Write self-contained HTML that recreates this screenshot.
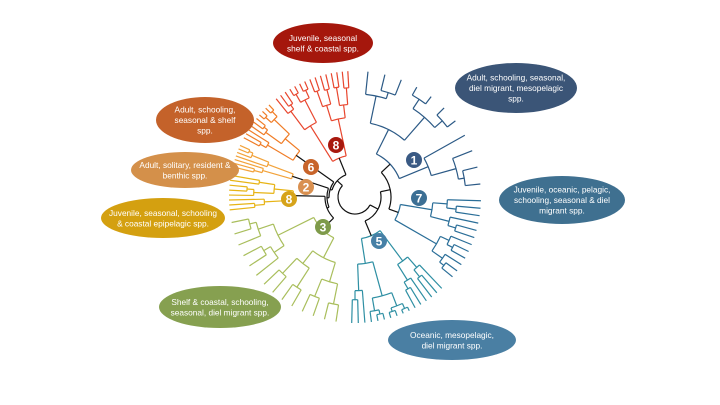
<!DOCTYPE html>
<html><head><meta charset="utf-8"><style>
html,body{margin:0;padding:0;background:#fff;width:720px;height:405px;overflow:hidden}
svg text{font-family:"Liberation Sans",sans-serif}
</style></head><body>
<svg id="chart" width="720" height="405" viewBox="0 0 720 405" xmlns="http://www.w3.org/2000/svg">
<g id="tree"></g>
<g id="badges"></g>
<g id="labels"></g>
</svg>
<script>
// Cluster data
const clusterIds = ['1','7','5','3','8y','2','6','8r'];
const clusterStart = [2, 90, 135, 186, 263, 283, 297, 320];
const clusterEnd = [88, 131, 183, 261, 281, 295, 318, 358];
const clusterLeaves = [11, 12, 16, 14, 8, 7, 10, 15];
const clusterRootR = [48, 46, 42, 46, 62, 66, 72, 42];
const clusterColors = ['#2C5A86','#2A6E98','#2E8FA3','#A9BE5C','#E7B416','#F2A23A','#F07C26','#E8462E'];
const badgeText = ['1','7','5','3','8','2','6','8'];
const badgeColors = ['#3A5A84','#3C6F94','#4680A6','#7E9A4A','#D6A31A','#D99050','#C8642A','#A8190E'];

const CX=355, CY=197, R_OUT=126, R_ROOT=17;
const NS='http://www.w3.org/2000/svg';
const tree=document.getElementById('tree');
function pt(a,r){const t=a*Math.PI/180;return [CX+r*Math.sin(t), CY-r*Math.cos(t)];}
function line(a,r1,r2,col){const p=pt(a,r1),q=pt(a,r2);const e=document.createElementNS(NS,'line');
e.setAttribute('x1',p[0]);e.setAttribute('y1',p[1]);e.setAttribute('x2',q[0]);e.setAttribute('y2',q[1]);
e.setAttribute('stroke',col);e.setAttribute('stroke-width','1.2');


tree.appendChild(e);}
function arc(a1,a2,r,col){if(Math.abs(a2-a1)<0.01)return;const p=pt(a1,r),q=pt(a2,r);const large=Math.abs(a2-a1)>180?1:0;const sw=a2>a1?1:0;
const e=document.createElementNS(NS,'path');e.setAttribute('d',`M${p[0]},${p[1]}A${r},${r} 0 ${large} ${sw} ${q[0]},${q[1]}`);
e.setAttribute('fill','none');e.setAttribute('stroke',col);e.setAttribute('stroke-width','1.2');


tree.appendChild(e);}
const fracs=[0.4,0.55,0.3,0.65,0.5,0.35,0.6,0.45];
const steps=[0.45,0.3,0.55,0.35,0.4,0.6,0.28,0.5];
function build(a0,a1,n,r,depth,col){
  if(n===1){return (a0+a1)/2;}
  let k=Math.max(1,Math.min(n-1,Math.round(n*fracs[(depth+n)%fracs.length])));
  const am=a0+(a1-a0)*k/n;
  const rA=k===1?R_OUT:Math.min(R_OUT-4,r+(R_OUT-r)*steps[(depth*3+n)%steps.length]);
  const rB=(n-k)===1?R_OUT:Math.min(R_OUT-4,r+(R_OUT-r)*steps[(depth*5+n+1)%steps.length]);
  const aA=build(a0,am,k,rA,depth+1,col);
  const aB=build(am,a1,n-k,rB,depth+1,col);
  line(aA,r,rA,col);line(aB,r,rB,col);arc(aA,aB,r,col);
  return (aA+aB)/2;
}
const cAng=[];
for(let i=0;i<clusterIds.length;i++){
  cAng.push(build(clusterStart[i],clusterEnd[i],clusterLeaves[i],clusterRootR[i],0,clusterColors[i]));
}
const K='#111';
function join(aA,rA,aB,rB,r){line(aA,r,rA,K);line(aB,r,rB,K);arc(aA,aB,r,K);return (aA+aB)/2;}
const v=join(cAng[3],clusterRootR[3],cAng[4],clusterRootR[4],30);
const w=join(v,30,cAng[5],clusterRootR[5],28);
const x=join(w,28,cAng[6],clusterRootR[6],26);
const gA=join(x,26,cAng[7],clusterRootR[7],24);
const b1=join(cAng[0],clusterRootR[0],cAng[1],clusterRootR[1],36);
const gB=join(b1,36,cAng[2],clusterRootR[2],26);
line(gA,R_ROOT,24,K);line(gB,R_ROOT,26,K);arc(gB,gA,R_ROOT,K);

const badgePos=[[414,160],[419,198],[379,241],[323,227],[289,199],[306,187],[311,167],[336,145]];
const bg=document.getElementById('badges');
for(let i=0;i<badgeText.length;i++){
  const g=document.createElementNS(NS,'g');
  
  
  g.innerHTML=`<circle cx="${badgePos[i][0]}" cy="${badgePos[i][1]}" r="8" fill="${badgeColors[i]}"/><text x="${badgePos[i][0]}" y="${badgePos[i][1]+4.5}" font-size="12" font-weight="bold" fill="#fff" text-anchor="middle">${badgeText[i]}</text>`;
  bg.appendChild(g);
}
const labelLines=[
 ['Juvenile, seasonal','shelf & coastal spp.'],
 ['Adult, schooling, seasonal,','diel migrant, mesopelagic','spp.'],
 ['Adult, schooling,','seasonal & shelf','spp.'],
 ['Adult, solitary, resident &','benthic spp.'],
 ['Juvenile, seasonal, schooling','& coastal epipelagic spp.'],
 ['Juvenile, oceanic, pelagic,','schooling, seasonal & diel','migrant spp.'],
 ['Shelf & coastal, schooling,','seasonal, diel migrant spp.'],
 ['Oceanic, mesopelagic,','diel migrant spp.']];
const labelNames=['label-juvenile-shelf','label-adult-mesopelagic','label-adult-shelf','label-adult-benthic','label-juvenile-epipelagic','label-juvenile-oceanic','label-shelf-coastal','label-oceanic-mesopelagic'];
const labelCx=[323,516,205,185,163,562,220,452];
const labelCy=[43,88,120,170,218,200,307,340];
const labelRx=[50,61,49,54,62,63,61,64];
const labelRy=[20,25,23,18,20,24,21,20];
const labelColors=['#A5170C','#3B5577','#C4622A','#D4904A','#D4A010','#3F7090','#86A050','#4A7FA3'];
const lg=document.getElementById('labels');
for(let i=0;i<labelLines.length;i++){
  const g=document.createElementNS(NS,'g');
  
  
  let h=`<ellipse cx="${labelCx[i]}" cy="${labelCy[i]}" rx="${labelRx[i]}" ry="${labelRy[i]}" fill="${labelColors[i]}"/>`;
  const n=labelLines[i].length, lh=10.5;
  for(let j=0;j<n;j++){
    const y=labelCy[i]+(j-(n-1)/2)*lh+3;
    h+=`<text x="${labelCx[i]}" y="${y}" font-size="8.3" fill="#fff" text-anchor="middle">${labelLines[i][j].replace(/&/g,'&amp;')}</text>`;
  }
  g.innerHTML=h;lg.appendChild(g);
}
</script>
</body></html>
